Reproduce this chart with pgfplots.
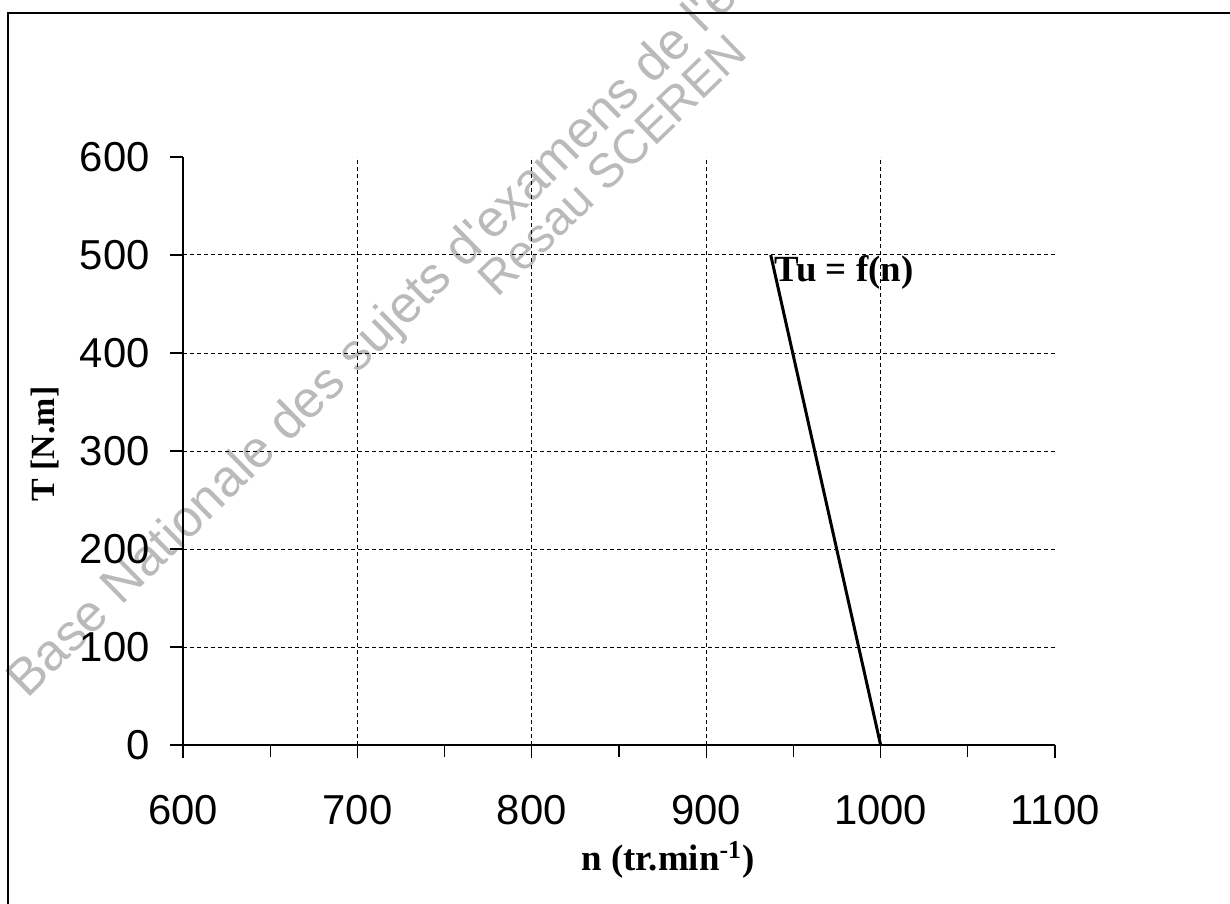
\documentclass[border=0pt]{standalone}
\usepackage{pgfplots}
\pgfplotsset{compat=1.18}
\usepackage{fontspec}
\setmainfont{Liberation Serif}
\newfontfamily\arial{Liberation Sans}
\begin{document}
\begin{tikzpicture}[x=0.5bp,y=-0.5bp]
\path[use as bounding box] (0,0) rectangle (1230,903);
% watermark
\node[rotate=44.5, anchor=base west, text=black!27, inner sep=0pt,
      font=\arial\fontsize{26}{30}\selectfont] at (27,700)
      {Base Nationale des sujets d'examens de l'enseignement professionnel};
\node[rotate=44, anchor=base west, text=black!27, inner sep=0pt,
      font=\arial\fontsize{24}{30}\selectfont] at (497,299)
      {Resau SCEREN};
% frame
\draw[line width=1bp] (8,910) -- (8,13) -- (1240,13);
\coordinate (O) at (183,745);
\coordinate (XL) at (668,860);
\coordinate (YL) at (45,444);
\begin{axis}[
  at={(O)}, anchor=south west,
  scale only axis, width=436bp, height=294bp,
  xmin=600, xmax=1100, ymin=0, ymax=600,
  axis x line*=bottom, axis y line*=left,
  axis line style={line width=0.7bp},
  xtick={600,700,...,1100}, minor xtick={650,750,...,1050},
  ytick={0,100,...,600},
  tick align=outside, major tick length=6.5bp, minor tick length=6bp,
  every tick/.style={black, line width=0.6bp},
  every minor tick/.style={black, line width=0.6bp},
  ticklabel style={font=\arial\fontsize{21}{24}\selectfont},
  /pgf/number format/assume math mode=true,
  /pgf/number format/1000 sep={},
  xticklabel style={anchor=base, inner sep=0pt, yshift=-33bp},
  yticklabel style={anchor=east, inner sep=0pt, xshift=-10bp},
  clip=false,
]
\pgfplotsinvokeforeach{700,800,900,1000}{
  \draw[black, line width=0.5bp, dash pattern=on 2bp off 1.5bp] (axis cs:#1,0) -- (axis cs:#1,600);
}
\pgfplotsinvokeforeach{100,200,300,400,500}{
  \draw[black, line width=0.5bp, dash pattern=on 2bp off 1.5bp] (axis cs:600,#1) -- (axis cs:1100,#1);
}
\addplot[black, line width=1.5bp] coordinates {(937,500) (1000,0)};
\node[anchor=west, inner sep=1bp, font=\bfseries\fontsize{18.5}{22}\selectfont] at (axis cs:938,482) {Tu = f(n)};
\end{axis}
\node[font=\bfseries\fontsize{18.5}{22}\selectfont] at (XL) {n (tr.min\textsuperscript{-1})};
\node[rotate=90, font=\bfseries\fontsize{17}{20}\selectfont] at (YL) {T [N.m]};
\end{tikzpicture}
\end{document}
